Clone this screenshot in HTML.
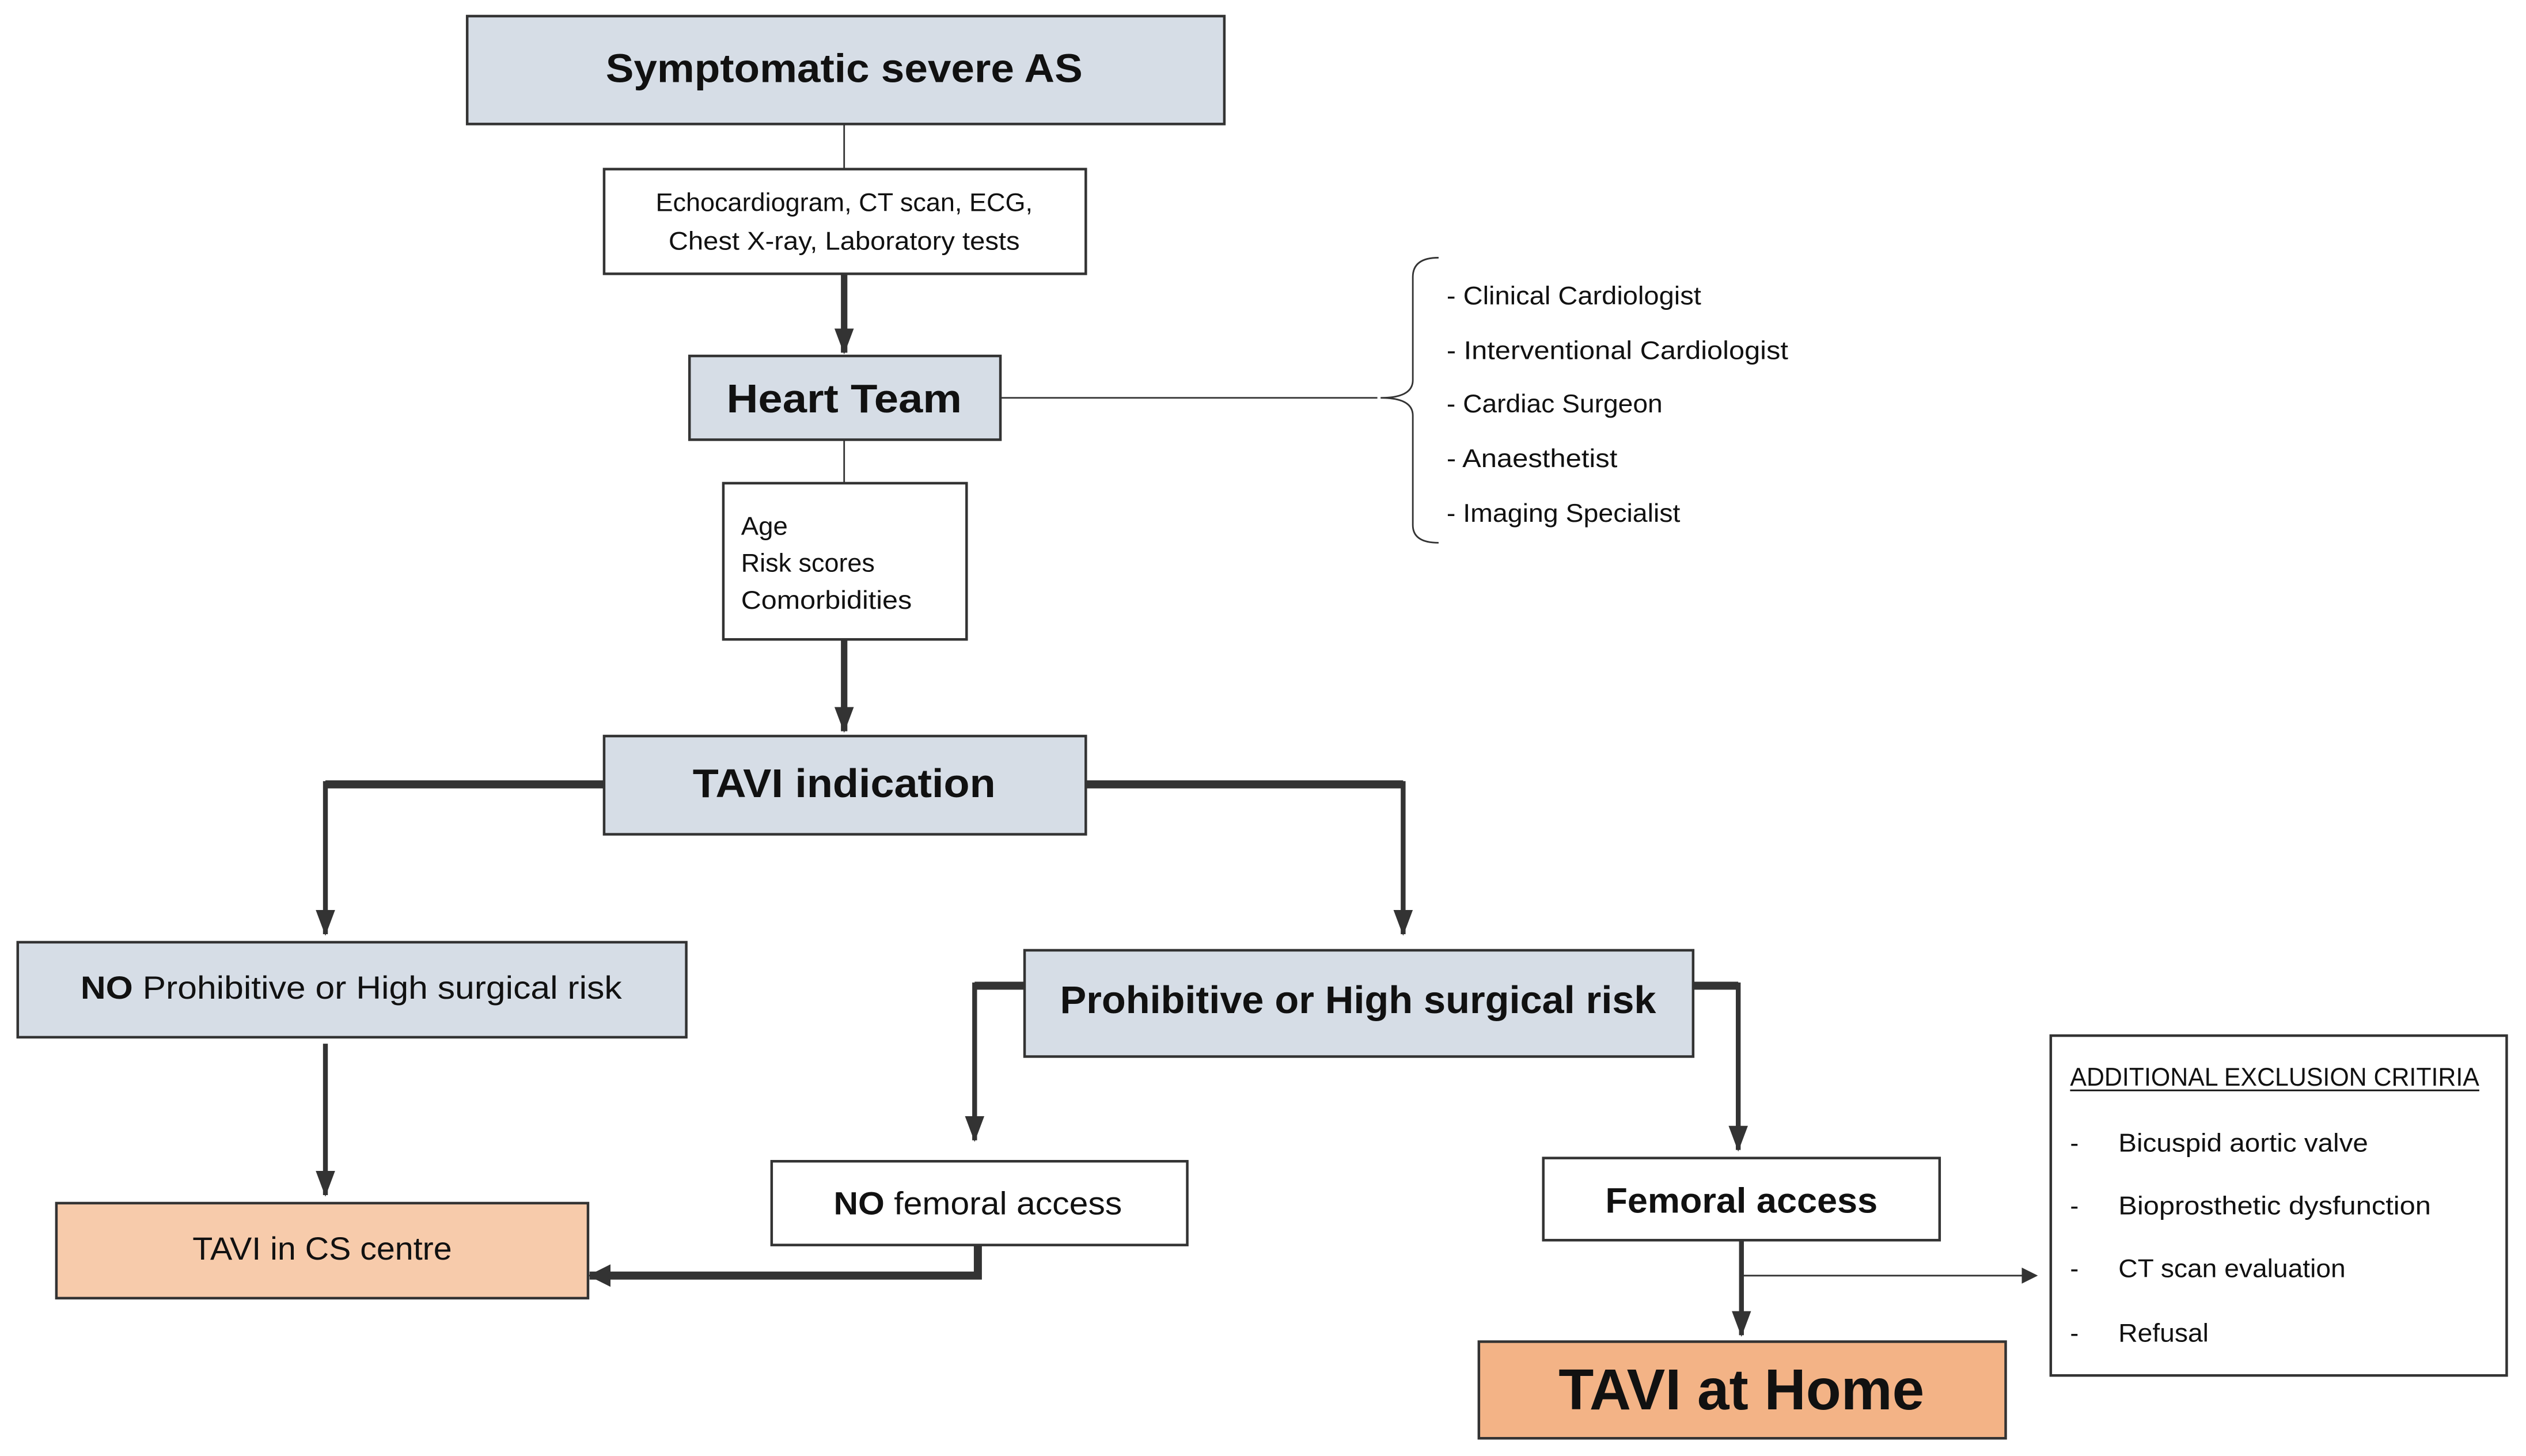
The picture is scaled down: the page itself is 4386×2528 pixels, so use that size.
<!DOCTYPE html>
<html><head><meta charset="utf-8"><style>
html,body{margin:0;padding:0;background:#fff;}
svg{display:block;}
text{font-family:"Liberation Sans",sans-serif;fill:#111;}
</style></head><body>
<svg width="4386" height="2528" viewBox="0 0 1568 904" preserveAspectRatio="none" xmlns="http://www.w3.org/2000/svg">
<defs>
<marker id="ah" markerWidth="16" markerHeight="12" refX="15" refY="6" orient="auto" markerUnits="userSpaceOnUse"><path d="M0,0 L16,6 L0,12 Z" fill="#333"/></marker>
<marker id="ahs" markerWidth="14" markerHeight="14" refX="13" refY="7" orient="auto" markerUnits="userSpaceOnUse"><path d="M0,0 L14,7 L0,14 Z" fill="#333"/></marker>
<marker id="aht" markerWidth="10" markerHeight="10" refX="9" refY="5" orient="auto" markerUnits="userSpaceOnUse"><path d="M0,0 L10,5 L0,10 Z" fill="#333"/></marker>
</defs>
<g stroke="#333" fill="none">
<line x1="524" y1="77" x2="524" y2="105" stroke-width="1"/>
<line x1="524" y1="170" x2="524" y2="219" stroke-width="4" marker-end="url(#ah)"/>
<line x1="621" y1="247" x2="855" y2="247" stroke-width="1"/>
<path d="M893,160 Q877,160 877,172 L877,236 Q877,247 857,247 Q877,247 877,258 L877,326 Q877,337 893,337" stroke-width="1"/>
<line x1="524" y1="273" x2="524" y2="300" stroke-width="1"/>
<line x1="524" y1="397" x2="524" y2="454" stroke-width="4" marker-end="url(#ah)"/>
<path d="M375,487 L202,487" stroke-width="5"/>
<line x1="202" y1="485" x2="202" y2="580" stroke-width="3" marker-end="url(#ah)"/>
<path d="M674,487 L871,487" stroke-width="5"/>
<line x1="871" y1="485" x2="871" y2="580" stroke-width="3" marker-end="url(#ah)"/>
<line x1="202" y1="648" x2="202" y2="742" stroke-width="3" marker-end="url(#ah)"/>
<path d="M636,612 L605,612" stroke-width="5"/>
<line x1="605" y1="610" x2="605" y2="708" stroke-width="3" marker-end="url(#ah)"/>
<path d="M1051,612 L1079,612" stroke-width="5"/>
<line x1="1079" y1="610" x2="1079" y2="714" stroke-width="3" marker-end="url(#ah)"/>
<path d="M607,773 L607,792 L366,792" stroke-width="5" marker-end="url(#ahs)"/>
<line x1="1081" y1="770" x2="1081" y2="829" stroke-width="3" marker-end="url(#ah)"/>
<line x1="1081" y1="792" x2="1264" y2="792" stroke-width="1" marker-end="url(#aht)"/>
</g>
<g stroke="#333" stroke-width="1.6">
<rect x="290" y="10" width="470" height="67" fill="#d6dde6"/>
<rect x="375" y="105" width="299" height="65" fill="#fff"/>
<rect x="428" y="221" width="193" height="52" fill="#d6dde6"/>
<rect x="449" y="300" width="151" height="97" fill="#fff"/>
<rect x="375" y="457" width="299" height="61" fill="#d6dde6"/>
<rect x="11" y="585" width="415" height="59" fill="#d6dde6"/>
<rect x="35" y="747" width="330" height="59" fill="#f7cbab"/>
<rect x="636" y="590" width="415" height="66" fill="#d6dde6"/>
<rect x="479" y="721" width="258" height="52" fill="#fff"/>
<rect x="958" y="719" width="246" height="51" fill="#fff"/>
<rect x="918" y="833" width="327" height="60" fill="#f3b386"/>
<rect x="1273" y="643" width="283" height="211" fill="#fff"/>
</g>
<text x="524" y="51" font-size="25" font-weight="bold" text-anchor="middle" textLength="296" lengthAdjust="spacingAndGlyphs">Symptomatic severe AS</text>
<text x="524" y="131" font-size="16" text-anchor="middle" textLength="234" lengthAdjust="spacingAndGlyphs">Echocardiogram, CT scan, ECG,</text>
<text x="524" y="155" font-size="16" text-anchor="middle" textLength="218" lengthAdjust="spacingAndGlyphs">Chest X-ray, Laboratory tests</text>
<text x="524" y="256" font-size="25" font-weight="bold" text-anchor="middle" textLength="146" lengthAdjust="spacingAndGlyphs">Heart Team</text>
<text x="460" y="332" font-size="16" textLength="29" lengthAdjust="spacingAndGlyphs">Age</text>
<text x="460" y="355" font-size="16" textLength="83" lengthAdjust="spacingAndGlyphs">Risk scores</text>
<text x="460" y="378" font-size="16" textLength="106" lengthAdjust="spacingAndGlyphs">Comorbidities</text>
<g font-size="16">
<text x="898" y="189" textLength="158" lengthAdjust="spacingAndGlyphs">- Clinical Cardiologist</text>
<text x="898" y="223" textLength="212" lengthAdjust="spacingAndGlyphs">- Interventional Cardiologist</text>
<text x="898" y="256" textLength="134" lengthAdjust="spacingAndGlyphs">- Cardiac Surgeon</text>
<text x="898" y="290" textLength="106" lengthAdjust="spacingAndGlyphs">- Anaesthetist</text>
<text x="898" y="324" textLength="145" lengthAdjust="spacingAndGlyphs">- Imaging Specialist</text>
</g>
<text x="524" y="495" font-size="25" font-weight="bold" text-anchor="middle" textLength="188" lengthAdjust="spacingAndGlyphs">TAVI indication</text>
<text x="218" y="620" font-size="20" text-anchor="middle" textLength="336" lengthAdjust="spacingAndGlyphs"><tspan font-weight="bold">NO</tspan> Prohibitive or High surgical risk</text>
<text x="200" y="782" font-size="20" text-anchor="middle" textLength="161" lengthAdjust="spacingAndGlyphs">TAVI in CS centre</text>
<text x="843" y="629" font-size="24" font-weight="bold" text-anchor="middle" textLength="370" lengthAdjust="spacingAndGlyphs">Prohibitive or High surgical risk</text>
<text x="607" y="754" font-size="20" text-anchor="middle" textLength="179" lengthAdjust="spacingAndGlyphs"><tspan font-weight="bold">NO</tspan> femoral access</text>
<text x="1081" y="753" font-size="22" font-weight="bold" text-anchor="middle" textLength="169" lengthAdjust="spacingAndGlyphs">Femoral access</text>
<text x="1081" y="875" font-size="36" font-weight="bold" text-anchor="middle" textLength="227" lengthAdjust="spacingAndGlyphs">TAVI at Home</text>
<text x="1285" y="674" font-size="16" textLength="254" lengthAdjust="spacingAndGlyphs">ADDITIONAL EXCLUSION CRITIRIA</text>
<line x1="1285" y1="677" x2="1539" y2="677" stroke="#111" stroke-width="1"/>
<g font-size="16">
<text x="1285" y="715">-</text><text x="1315" y="715" textLength="155" lengthAdjust="spacingAndGlyphs">Bicuspid aortic valve</text>
<text x="1285" y="754">-</text><text x="1315" y="754" textLength="194" lengthAdjust="spacingAndGlyphs">Bioprosthetic dysfunction</text>
<text x="1285" y="793">-</text><text x="1315" y="793" textLength="141" lengthAdjust="spacingAndGlyphs">CT scan evaluation</text>
<text x="1285" y="833">-</text><text x="1315" y="833" textLength="56" lengthAdjust="spacingAndGlyphs">Refusal</text>
</g>
</svg>
</body></html>
